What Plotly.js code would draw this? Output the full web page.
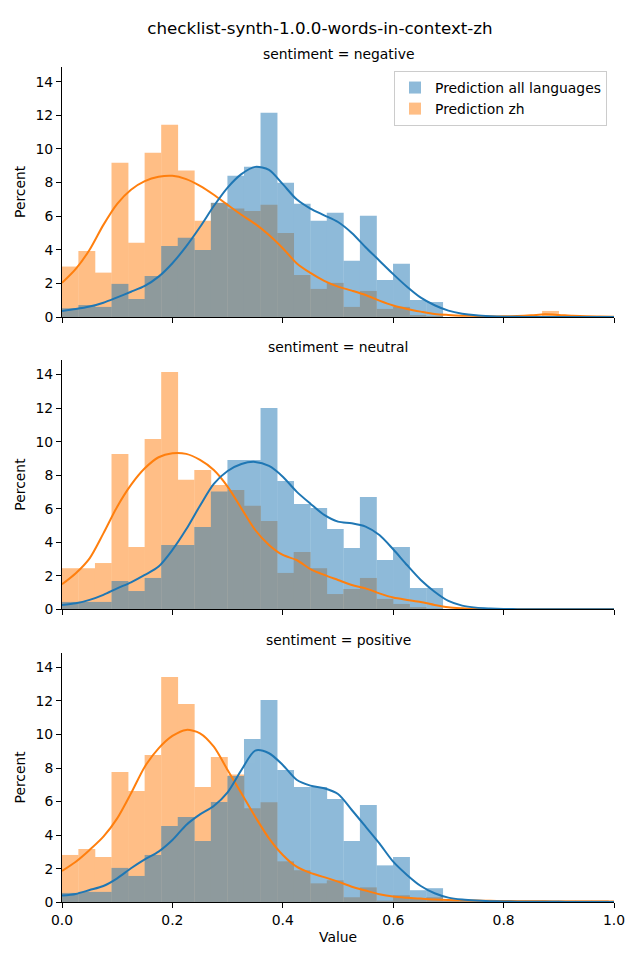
<!DOCTYPE html>
<html>
<head>
<meta charset="utf-8">
<script src="https://cdn.plot.ly/plotly-3.0.1.min.js"></script>
<style>html,body{margin:0;padding:0;background:#fff;}#chart{width:640px;height:960px;}</style>
</head>
<body>
<div id="chart"></div>
<script>
// ---- data ----
const chartTitle = "checklist-synth-1.0.0-words-in-context-zh";
const panelTitles = ["sentiment = negative", "sentiment = neutral", "sentiment = positive"];
const seriesNames = ["Prediction all languages", "Prediction zh"];
const binCenters = [0.015,0.045,0.075,0.105,0.135,0.165,0.195,0.225,0.255,0.285,0.315,0.345,0.375,0.405,0.435,0.465,0.495,0.525,0.555,0.585,0.615,0.645,0.675,0.705,0.735,0.765,0.795,0.825,0.855,0.885,0.915,0.945,0.975];
const xTickVals = [0, 0.2, 0.4, 0.6, 0.8, 1.0];
const yTickVals = [0, 2, 4, 6, 8, 10, 12, 14];

// histogram percents per bin
const negAll = [0.52,0.71,0.6,1.97,1.07,2.44,4.23,4.71,3.99,6.8,8.4,8.94,12.15,7.98,6.73,5.72,6.2,3.34,6.02,2.2,3.16,1.01,0.89,0,0,0,0,0,0,0,0,0,0];
const negZh  = [3.0,3.93,2.64,9.17,4.41,9.77,11.44,8.72,5.72,6.78,6.45,6.31,6.67,5.0,2.5,1.67,2.03,0.6,1.55,0.48,0.6,0.12,0.06,0,0,0,0,0,0,0.36,0,0,0];
const neuAll = [0.44,0.44,0.44,1.69,1.09,1.87,3.84,3.84,4.91,7.02,8.91,8.91,12.01,7.66,6.28,6.04,4.79,3.66,6.70,2.94,3.72,1.27,1.27,0,0,0,0,0,0,0,0,0,0];
const neuZh  = [2.45,2.45,2.76,9.27,3.72,10.16,14.16,7.72,8.31,7.42,7.12,6.18,5.27,2.17,3.42,2.45,0.91,1.21,1.87,0.62,0.32,0.13,0.05,0,0,0,0,0,0,0,0,0,0];
const posAll = [0.56,0.62,0.62,2.05,1.57,2.82,4.55,5.08,3.65,5.98,7.52,9.73,12.05,7.88,6.87,6.87,6.16,3.65,5.8,2.2,2.7,0.72,0.84,0.1,0.1,0.1,0.1,0.1,0.1,0.1,0.1,0.1,0.1];
const posZh  = [2.82,3.18,2.70,7.76,6.63,8.78,13.42,11.82,6.87,8.66,7.62,5.6,5.96,2.44,1.91,1.13,1.31,0.3,0.89,0.1,0.42,0.24,0.3,0.1,0.1,0.1,0.1,0.1,0.1,0.1,0.1,0.1,0.1];

// KDE curves (percent scale)
const kdeX = [0,0.025,0.05,0.075,0.1,0.125,0.15,0.175,0.2,0.225,0.25,0.275,0.3,0.325,0.35,0.375,0.4,0.425,0.45,0.475,0.5,0.525,0.55,0.575,0.6,0.625,0.65,0.675,0.7,0.725,0.75,0.775,0.8,0.825,0.85,0.875,0.9,0.925,0.95,0.975,1.0];
const negAllKde = [0.36,0.47,0.62,0.85,1.17,1.5,1.85,2.4,3.2,4.2,5.35,6.6,7.7,8.5,8.93,8.75,7.9,7.0,6.45,6.05,5.65,5.0,4.15,3.35,2.55,1.8,1.15,0.7,0.38,0.2,0.1,0.05,0.02,0.01,0,0,0,0,0,0,0];
const negZhKde  = [2.03,2.86,4.0,5.48,6.73,7.57,8.08,8.34,8.4,8.2,7.8,7.27,6.67,6.08,5.54,4.88,4.09,3.2,2.62,2.15,1.81,1.57,1.31,0.97,0.68,0.48,0.32,0.18,0.12,0.08,0.06,0.04,0.04,0.06,0.1,0.16,0.12,0.07,0.04,0.03,0.02];
const neuAllKde = [0.26,0.36,0.56,0.86,1.25,1.61,2.05,2.55,3.54,4.77,6.18,7.48,8.25,8.67,8.79,8.55,7.91,7.02,6.3,5.63,5.23,5.13,4.93,4.43,3.58,2.64,1.75,1.05,0.5,0.22,0.1,0.05,0.02,0.01,0,0,0,0,0,0,0];
const neuZhKde  = [1.49,2.15,3.04,4.53,6.12,7.42,8.41,9.07,9.31,9.27,8.91,8.31,7.32,6.02,4.73,3.84,3.24,2.94,2.4,2.05,1.75,1.45,1.25,0.95,0.7,0.56,0.44,0.26,0.12,0.06,0.02,0,0,0,0,0,0,0,0,0,0];
const posAllKde = [0.4,0.5,0.73,0.97,1.43,2.03,2.56,3.02,3.71,4.61,5.24,5.74,6.55,7.88,9.04,8.88,8.18,7.3,6.95,6.79,6.45,5.5,4.51,3.51,2.42,1.63,0.97,0.54,0.28,0.16,0.1,0.07,0.05,0.04,0.03,0.03,0.03,0.02,0.02,0.02,0.02];
const posZhKde  = [1.87,2.42,3.12,3.91,5.0,6.49,8.08,9.17,9.91,10.27,10.07,9.27,7.88,6.49,5.1,3.81,2.82,2.12,1.75,1.5,1.23,0.93,0.7,0.48,0.34,0.27,0.22,0.17,0.14,0.12,0.1,0.09,0.08,0.07,0.06,0.06,0.05,0.05,0.05,0.05,0.05];

// ---- build ----
const panels = [
  {all: negAll, zh: negZh, allK: negAllKde, zhK: negZhKde},
  {all: neuAll, zh: neuZh, allK: neuAllKde, zhK: neuZhKde},
  {all: posAll, zh: posZh, allK: posAllKde, zhK: posZhKde}
];
const BLUE = "#1f77b4", ORANGE = "#ff7f0e";
const FONT = "DejaVu Sans, sans-serif";
const H = 960, W = 640;
const axTops = [67, 360, 652.7], axBottoms = [317, 609.3, 902.3];
const xDom = [62 / W, 614 / W];
const yMax = 14.87;

const traces = [];
const layout = {
  width: W, height: H,
  margin: {l: 0, r: 0, t: 0, b: 0},
  paper_bgcolor: "#fff", plot_bgcolor: "rgba(0,0,0,0)",
  font: {family: FONT, size: 13.9, color: "#000"},
  barmode: "overlay",
  showlegend: true,
  title: {text: chartTitle, x: 0.5, xanchor: "center", y: 1 - 28 / H, yanchor: "middle",
          font: {family: FONT, size: 16.7, color: "#000"}},
  legend: {x: 607 / W, xanchor: "right", y: 1 - 71 / H, yanchor: "top",
           bgcolor: "rgba(255,255,255,0.8)", bordercolor: "#cccccc", borderwidth: 1,
           font: {family: FONT, size: 13.9, color: "#000"}, itemwidth: 30, tracegroupgap: 0},
  annotations: []
};

panels.forEach((p, i) => {
  const n = i === 0 ? "" : String(i + 1);
  const xa = "x" + n, ya = "y" + n;
  traces.push({type: "bar", x: binCenters, y: p.zh, width: 0.0306, xaxis: xa, yaxis: ya,
    name: seriesNames[1], legendrank: 2, showlegend: i === 0, opacity: 0.5,
    marker: {color: ORANGE, line: {width: 0}}, hoverinfo: "skip"});
  traces.push({type: "bar", x: binCenters, y: p.all, width: 0.0306, xaxis: xa, yaxis: ya,
    name: seriesNames[0], legendrank: 1, showlegend: i === 0, opacity: 0.5,
    marker: {color: BLUE, line: {width: 0}}, hoverinfo: "skip"});
  traces.push({type: "scatter", mode: "lines", x: kdeX, y: p.zhK, xaxis: xa, yaxis: ya,
    showlegend: false, line: {color: ORANGE, width: 2, shape: "spline", smoothing: 0.8}, hoverinfo: "skip"});
  traces.push({type: "scatter", mode: "lines", x: kdeX, y: p.allK, xaxis: xa, yaxis: ya,
    showlegend: false, line: {color: BLUE, width: 2, shape: "spline", smoothing: 0.8}, hoverinfo: "skip"});

  const yDom = [1 - axBottoms[i] / H, 1 - axTops[i] / H];
  layout["xaxis" + n] = {
    domain: xDom, anchor: ya, range: [0, 1], tickvals: xTickVals, tickformat: ".1f",
    showticklabels: i === 2, ticks: "outside", ticklen: 5, tickwidth: 1, tickcolor: "#000",
    showline: true, linecolor: "#000", linewidth: 1, showgrid: false, zeroline: false,
    automargin: false, tickfont: {family: FONT, size: 13.9, color: "#000"}
  };
  layout["yaxis" + n] = {
    domain: yDom, anchor: xa, range: [0, yMax], tickvals: yTickVals,
    ticks: "outside", ticklen: 5, tickwidth: 1, tickcolor: "#000",
    showline: true, linecolor: "#000", linewidth: 1, showgrid: false, zeroline: false,
    automargin: false, tickfont: {family: FONT, size: 13.9, color: "#000"}
  };
  layout.annotations.push({text: panelTitles[i], xref: "paper", yref: "paper",
    x: (xDom[0] + xDom[1]) / 2, y: yDom[1], xanchor: "center", yanchor: "bottom", yshift: 3,
    showarrow: false, font: {family: FONT, size: 13.9, color: "#000"}});
  layout.annotations.push({text: "Percent", xref: "paper", yref: "paper",
    x: 20 / W, y: (yDom[0] + yDom[1]) / 2, xanchor: "center", yanchor: "middle", textangle: -90,
    showarrow: false, font: {family: FONT, size: 13.9, color: "#000"}});
});
layout.annotations.push({text: "Value", xref: "paper", yref: "paper",
  x: (xDom[0] + xDom[1]) / 2, y: 1 - 937 / H, xanchor: "center", yanchor: "middle",
  showarrow: false, font: {family: FONT, size: 13.9, color: "#000"}});

Plotly.newPlot("chart", traces, layout, {displayModeBar: false, staticPlot: true});
</script>
</body>
</html>
